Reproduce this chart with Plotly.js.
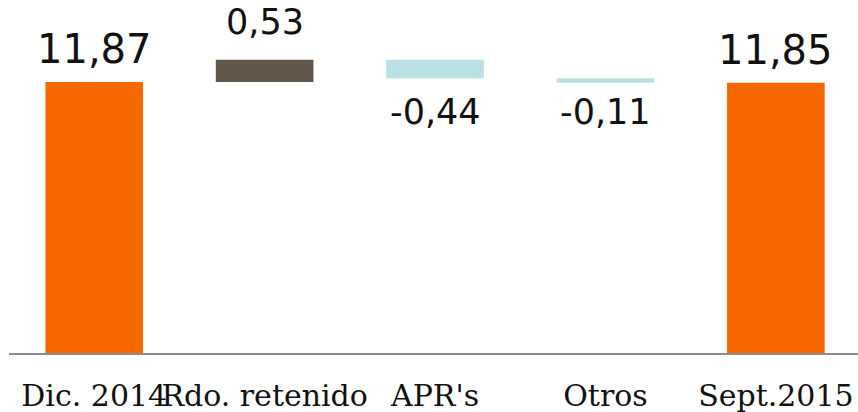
<!DOCTYPE html>
<html>
<head>
<meta charset="utf-8">
<script src="https://cdn.plot.ly/plotly-3.0.1.min.js"></script>
<style>html,body{margin:0;padding:0;background:#fff;}#chart{width:858px;height:412px;}</style>
</head>
<body>
<div id="chart"></div>
<script>
// Data
const categories = ["Dic. 2014", "Rdo. retenido", "APR's", "Otros", "Sept.2015"];
const values = [11.87, 0.53, -0.44, -0.11, 11.85];
const measures = ["absolute", "relative", "relative", "relative", "total"];
const labelTexts = ["11,87", "0,53", "-0,44", "-0,11", "11,85"];

// Styles
const labelShifts = [8, 16, -12, -7, 8];
const labelSizes = [40, 35, 35, 35, 40];

// cumulative ends computed from the data
const ends = [];
let run = 0;
values.forEach((v, i) => {
  if (measures[i] === "absolute") run = v;
  else if (measures[i] === "relative") run += v;
  ends.push(run);
});

const annotations = categories.map((c, i) => {
  const neg = measures[i] === "relative" && values[i] < 0;
  return {
    x: c, y: ends[i], xref: "x", yref: "y",
    text: labelTexts[i], showarrow: false,
    yanchor: neg ? "top" : "bottom",
    yshift: labelShifts[i],
    font: {family: "DejaVu Sans", size: labelSizes[i], color: "#111"}
  };
});

const trace = {
  type: "waterfall",
  x: categories,
  y: values,
  measure: measures,
  textposition: "none",
  connector: {visible: false},
  increasing: {marker: {color: "#62554A"}},
  decreasing: {marker: {color: "#BBE0E3"}},
  totals: {marker: {color: "#F76800"}},
  hoverinfo: "skip"
};

const layout = {
  width: 858, height: 412,
  margin: {l: 9, r: 0, t: 0, b: 59},
  paper_bgcolor: "#fff", plot_bgcolor: "#fff",
  showlegend: false,
  waterfallgap: 0.427,
  xaxis: {
    type: "category",
    range: [-0.5, 4.482],
    showline: true, linecolor: "#8c8c8c", linewidth: 2,
    showgrid: false, zeroline: false, ticks: "",
    tickangle: 0,
    ticklabelstandoff: 15,
    tickfont: {family: "DejaVu Serif", size: 30, color: "#111"}
  },
  yaxis: {
    range: [5.42, 13.82],
    visible: false, showgrid: false, zeroline: false
  },
  annotations: annotations
};

Plotly.newPlot("chart", [trace], layout, {staticPlot: true, displayModeBar: false});
</script>
</body>
</html>
